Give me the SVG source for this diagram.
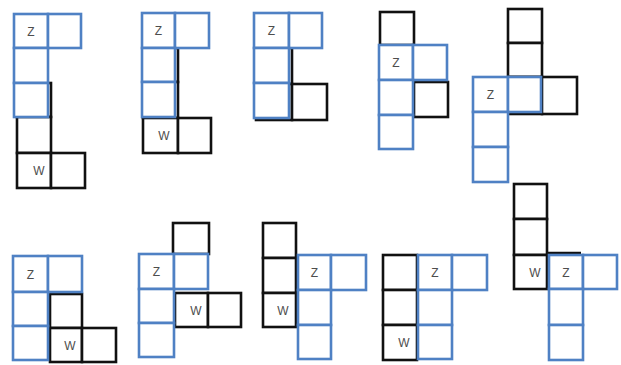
<svg xmlns="http://www.w3.org/2000/svg" width="621" height="365" viewBox="0 0 621 365">
<style>
.k{fill:#fff;stroke:#111;stroke-width:2.6}
.b{fill:#fff;stroke:#4f81c4;stroke-width:2.6}
.kl{fill:none;stroke:#111;stroke-width:2.6}
.t{font-family:"Liberation Sans",Arial,sans-serif;font-size:12px;fill:#4d4d4d;text-anchor:middle}
</style>
<rect width="621" height="365" fill="#fff"/>
<g id="piece1">
<rect class="k" x="17" y="83" width="34" height="34"/>
<rect class="k" x="17" y="117" width="34" height="36"/>
<rect class="k" x="17" y="153" width="34" height="35"/>
<rect class="k" x="51" y="153" width="34" height="35"/>
<rect class="b" x="14" y="14" width="34" height="34"/>
<rect class="b" x="48" y="14" width="33" height="34"/>
<rect class="b" x="14" y="48" width="34" height="35"/>
<rect class="b" x="14" y="83" width="34" height="34"/>
<text class="t" x="31" y="35.5">Z</text>
<text class="t" x="39" y="175">W</text>
</g>
<g id="piece2">
<rect class="k" x="143" y="48" width="35" height="34"/>
<rect class="k" x="143" y="82" width="35" height="36"/>
<rect class="k" x="143" y="118" width="35" height="35"/>
<rect class="k" x="178" y="118" width="33" height="35"/>
<rect class="b" x="142" y="13" width="33" height="35"/>
<rect class="b" x="175" y="13" width="34" height="35"/>
<rect class="b" x="142" y="48" width="33" height="34"/>
<rect class="b" x="142" y="82" width="33" height="35"/>
<text class="t" x="158.5" y="35">Z</text>
<text class="t" x="164" y="140">W</text>
</g>
<g id="piece3">
<rect class="k" x="256" y="48" width="36" height="36"/>
<rect class="k" x="256" y="84" width="36" height="36"/>
<rect class="k" x="292" y="84" width="35" height="36"/>
<rect class="b" x="254" y="13" width="35" height="35"/>
<rect class="b" x="289" y="13" width="33" height="35"/>
<rect class="b" x="254" y="48" width="35" height="35"/>
<rect class="b" x="254" y="83" width="35" height="35"/>
<text class="t" x="271.5" y="35">Z</text>
</g>
<g id="piece4">
<rect class="k" x="380" y="12" width="34" height="33"/>
<rect class="k" x="414" y="82" width="34" height="35"/>
<rect class="b" x="379" y="45" width="34" height="35"/>
<rect class="b" x="413" y="45" width="34" height="35"/>
<rect class="b" x="379" y="80" width="34" height="35"/>
<rect class="b" x="379" y="115" width="34" height="34"/>
<text class="t" x="396" y="67">Z</text>
</g>
<g id="piece5">
<rect class="k" x="508" y="9" width="34" height="34"/>
<rect class="k" x="508" y="43" width="34" height="34"/>
<rect class="k" x="509" y="77" width="33" height="37"/>
<rect class="k" x="542" y="77" width="35" height="37"/>
<rect class="b" x="473" y="77" width="35" height="35"/>
<rect class="b" x="508" y="77" width="33" height="35"/>
<rect class="b" x="473" y="112" width="35" height="35"/>
<rect class="b" x="473" y="147" width="35" height="35"/>
<text class="t" x="490.5" y="99">Z</text>
</g>
<g id="piece6">
<rect class="k" x="50" y="294" width="32" height="34"/>
<rect class="k" x="50" y="328" width="32" height="34"/>
<rect class="k" x="82" y="328" width="34" height="34"/>
<rect class="b" x="13" y="256" width="35" height="36"/>
<rect class="b" x="48" y="256" width="34" height="36"/>
<rect class="b" x="13" y="292" width="35" height="34"/>
<rect class="b" x="13" y="326" width="35" height="34"/>
<text class="t" x="30.5" y="278.5">Z</text>
<text class="t" x="70" y="349.5">W</text>
</g>
<g id="piece7">
<rect class="k" x="173" y="223" width="36" height="31"/>
<rect class="k" x="175" y="293" width="33" height="34"/>
<rect class="k" x="208" y="293" width="33" height="34"/>
<rect class="b" x="139" y="254" width="35" height="35"/>
<rect class="b" x="174" y="254" width="34" height="35"/>
<rect class="b" x="139" y="289" width="35" height="34"/>
<rect class="b" x="139" y="323" width="35" height="34"/>
<text class="t" x="156.5" y="276">Z</text>
<text class="t" x="196" y="314.5">W</text>
</g>
<g id="piece8">
<rect class="k" x="263" y="223" width="33" height="35"/>
<rect class="k" x="263" y="258" width="33" height="35"/>
<rect class="k" x="263" y="293" width="33" height="34"/>
<rect class="b" x="298" y="255" width="33" height="35"/>
<rect class="b" x="331" y="255" width="35" height="35"/>
<rect class="b" x="298" y="290" width="33" height="35"/>
<rect class="b" x="298" y="325" width="33" height="34"/>
<text class="t" x="314.5" y="277">Z</text>
<text class="t" x="283" y="314.5">W</text>
</g>
<g id="piece9">
<rect class="k" x="383" y="255" width="34" height="35"/>
<rect class="k" x="383" y="290" width="34" height="35"/>
<rect class="k" x="383" y="325" width="34" height="35"/>
<rect class="b" x="418" y="255" width="34" height="35"/>
<rect class="b" x="452" y="255" width="35" height="35"/>
<rect class="b" x="418" y="290" width="34" height="35"/>
<rect class="b" x="418" y="325" width="34" height="34"/>
<text class="t" x="435" y="277">Z</text>
<text class="t" x="404" y="346.5">W</text>
</g>
<g id="piece10">
<rect class="k" x="514" y="184" width="33" height="35"/>
<rect class="k" x="514" y="219" width="33" height="36"/>
<rect class="k" x="514" y="255" width="33" height="34"/>
<line class="kl" x1="547" y1="253" x2="581" y2="253"/>
<rect class="b" x="549" y="255" width="34" height="34"/>
<rect class="b" x="583" y="255" width="34" height="34"/>
<rect class="b" x="549" y="289" width="34" height="36"/>
<rect class="b" x="549" y="325" width="34" height="35"/>
<text class="t" x="566" y="276.5">Z</text>
<text class="t" x="535" y="276.5">W</text>
</g>
<g id="connectors"/>
</svg>
